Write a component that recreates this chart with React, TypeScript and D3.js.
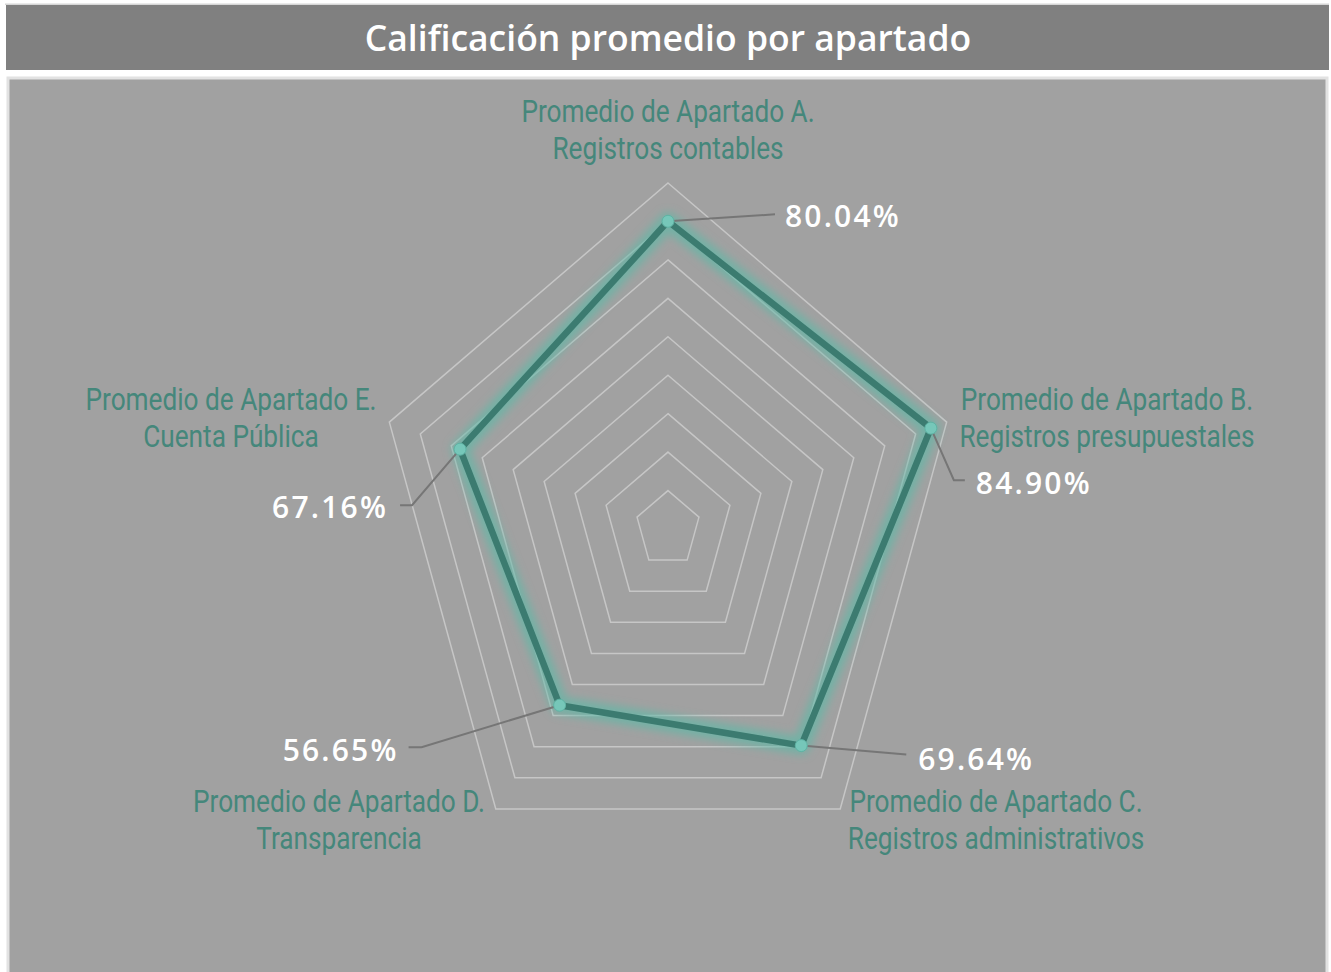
import * as d3 from 'd3';
import React from 'react';

const categories = [
    ['Promedio de Apartado A.', 'Registros contables'],
    ['Promedio de Apartado B.', 'Registros presupuestales'],
    ['Promedio de Apartado C.', 'Registros administrativos'],
    ['Promedio de Apartado D.', 'Transparencia'],
    ['Promedio de Apartado E.', 'Cuenta Pública'],
];
const values = [0.8004, 0.849, 0.6964, 0.5665, 0.6716];
const ringTicks = [0.1, 0.2, 0.3, 0.4, 0.5, 0.6, 0.7, 0.8, 0.9];
const title = 'Calificación promedio por apartado';

const W = 1331;
const H = 972;
const cx = 668;
const cy = 529;

// the original picture is stretched vertically, so two radial scales
const rx = d3.scaleLinear().domain([0, 0.9]).range([0, 293]);
const ry = d3.scaleLinear().domain([0, 0.9]).range([0, 346]);

const angle = (i: number) => (i * 2 * Math.PI) / categories.length;
const pt = (i: number, v: number): [number, number] => [
    cx + rx(v) * Math.sin(angle(i)),
    cy - ry(v) * Math.cos(angle(i)),
];

// category label placement: centre x, first baseline
const catPos = [
    { x: 668, y: 122 },
    { x: 1107, y: 410 },
    { x: 996, y: 812 },
    { x: 339, y: 812 },
    { x: 231, y: 410 },
];

// leader line bends (relative to the point) and value label anchor
const leaders = [
    { pts: [[107, -7]], lx: 117, ly: 6, anchor: 'start' },
    { pts: [[23, 52], [34, 52]], lx: 45, ly: 66, anchor: 'start' },
    { pts: [[105, 9]], lx: 117, ly: 24, anchor: 'start' },
    { pts: [[-138, 42], [-151, 42]], lx: -161, ly: 56, anchor: 'end' },
    { pts: [[-48, 56], [-60, 56]], lx: -72, ly: 69, anchor: 'end' },
];

const teal = '#45877b';

export default function App() {
    const line = d3
        .line<[number, number]>()
        .curve(d3.curveLinearClosed);

    const dataPts = values.map((v, i) => pt(i, v));

    return (
        <svg
            width={W}
            height={H}
            style={{ position: 'absolute', left: 0, top: 0, background: '#fff' }}
        >
            <defs>
                <filter id="glow" x="-20%" y="-20%" width="140%" height="140%">
                    <feGaussianBlur stdDeviation="4.5" />
                </filter>
            </defs>
            <rect x={5} y={3.5} width={1324} height={1.5} fill="#d6d6d6" />
            <rect x={6} y={5} width={1323} height={65} fill="#808080" />
            <text
                x={668}
                y={51}
                textAnchor="middle"
                fill="#fff"
                fontFamily="'Open Sans', sans-serif"
                fontWeight={600}
                fontSize={35.5}
            >
                {title}
            </text>

            <rect x={8} y={78} width={1319} height={900} fill="#a1a1a1" stroke="#e2e2e2" strokeWidth={3} />

            {ringTicks.map((t) => (
                <path
                    key={t}
                    d={line(categories.map((_, i) => pt(i, t))) || ''}
                    fill="none"
                    stroke="#c6c6c6"
                    strokeWidth={1.5}
                />
            ))}

            <path
                d={line(dataPts) || ''}
                fill="none"
                stroke="#5fb8a7"
                strokeWidth={18}
                strokeOpacity={0.7}
                strokeLinejoin="round"
                filter="url(#glow)"
            />
            <path
                d={line(dataPts) || ''}
                fill="none"
                stroke="#3c7b70"
                strokeWidth={6.5}
                strokeLinejoin="round"
            />

            {dataPts.map(([x, y], i) => {
                const l = leaders[i];
                const path = [[x, y], ...l.pts.map(([dx, dy]) => [x + dx, y + dy])]
                    .map((p, k) => `${k ? 'L' : 'M'}${p[0]},${p[1]}`)
                    .join('');
                return (
                    <g key={i}>
                        <path d={path} fill="none" stroke="#767676" strokeWidth={2} />
                        <circle cx={x} cy={y} r={6} fill="#76c7b9" stroke="#5fb3a4" strokeWidth={1} />
                        <text
                            x={x + l.lx}
                            y={y + l.ly}
                            textAnchor={l.anchor}
                            fill="#fff"
                            fontFamily="'Open Sans', sans-serif"
                            fontWeight={600}
                            fontSize={30}
                            letterSpacing={2.2}
                        >
                            {d3.format('.2%')(values[i])}
                        </text>
                    </g>
                );
            })}

            {categories.map((lines, i) => (
                <g key={i} transform={`translate(${catPos[i].x},${catPos[i].y}) scale(0.845,1)`}>
                    {lines.map((s, k) => (
                        <text
                            key={k}
                            x={0}
                            y={k * 37}
                            textAnchor="middle"
                            fill={teal}
                            fontFamily="Roboto, sans-serif"
                            fontSize={31}
                        >
                            {s}
                        </text>
                    ))}
                </g>
            ))}
        </svg>
    );
}
